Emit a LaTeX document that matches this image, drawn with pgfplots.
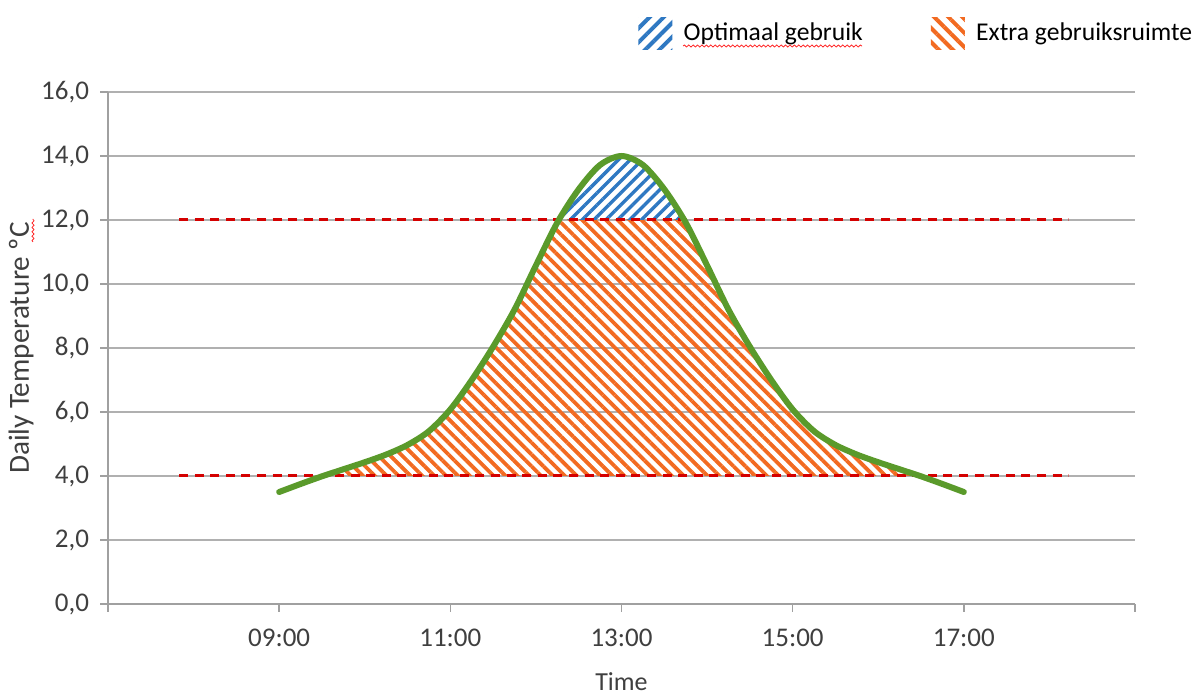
\documentclass[border=0pt]{standalone}
\usepackage{pgfplots}
\pgfplotsset{compat=1.18}
\usepackage{pgfplotstable}
\usetikzlibrary{patterns.meta, decorations.pathmorphing}
\usepackage{fontspec}
\setmainfont{Carlito}
\definecolor{gridgray}{HTML}{B0B0B0}
\definecolor{axisgray}{HTML}{A0A0A0}
\definecolor{hatchorange}{HTML}{F26A21}
\definecolor{hatchblue}{HTML}{2E78C2}
\definecolor{curvegreen}{HTML}{5A9A2B}
\definecolor{dashred}{HTML}{D40000}
\definecolor{textgray}{HTML}{3F3F3F}

\pgfplotstableread{
x y
9.00 3.50
9.25 3.75
9.50 3.99
9.75 4.21
10.00 4.43
10.25 4.67
10.50 4.97
10.75 5.40
11.00 6.08
11.25 7.00
11.50 8.04
11.75 9.20
12.00 10.58
12.25 11.92
12.50 12.96
12.75 13.72
13.00 14.00
13.25 13.72
13.50 12.96
13.75 11.92
14.00 10.58
14.25 9.20
14.50 8.04
14.75 7.00
15.00 6.08
15.25 5.40
15.50 4.97
15.75 4.67
16.00 4.43
16.25 4.21
16.50 3.99
16.75 3.75
17.00 3.50
}\curvedata

\begin{document}
\begin{tikzpicture}[font=\fontsize{13.5}{16}\selectfont]
\begin{axis}[
  at={(0pt,0pt)}, anchor=south west,
  scale only axis, width=513.5pt, height=256pt,
  xmin=7, xmax=19, ymin=0, ymax=16,
  axis lines*=left,
  axis line style={axisgray, line width=0.7pt},
  xtick={7,9,...,19},
  xticklabels={,09:00,11:00,13:00,15:00,17:00,},
  ytick={0,2,...,16},
  tick align=outside, major tick length=4pt,
  tick style={axisgray, line width=0.7pt},
  ymajorgrids, grid style={gridgray, line width=0.7pt},
  yticklabel style={/pgf/number format/fixed, /pgf/number format/fixed zerofill,
    /pgf/number format/precision=1, /pgf/number format/use comma,
    /pgf/number format/assume math mode=true, text=textgray, xshift=-2pt},
  xticklabel style={text=textgray, yshift=-5pt},
  xlabel=Time, ylabel={Daily Temperature ºC},
  xlabel style={at={(axis description cs:0.5,-0.152)}, anchor=center, text=textgray,
    font=\fontsize{13}{15}\selectfont},
  ylabel style={at={(axis description cs:-0.0845,0.5)}, anchor=center, text=textgray,
    font=\fontsize{14.6}{17}\selectfont},
  legend columns=2,
  legend style={at={(rel axis cs:0.516,1.115)}, anchor=west, draw=none, fill=none,
    inner sep=0pt, text=black, font=\fontsize{12.8}{15}\selectfont,
    /tikz/every even column/.append style={column sep=32pt}},
  legend cell align=left,
]
\begin{scope}
\clip (axis cs:7,4) rectangle (axis cs:19,12);
\addplot[pattern={Lines[angle=-45,distance=4.2pt,line width=1.9pt]}, pattern color=hatchorange, draw=none, smooth, forget plot]
  table {\curvedata} \closedcycle;
\end{scope}
\begin{scope}
\clip (axis cs:7,12) rectangle (axis cs:19,16);
\addplot[pattern={Lines[angle=45,distance=4.2pt,line width=1.7pt]}, pattern color=hatchblue, draw=none, smooth, forget plot]
  table {\curvedata} \closedcycle;
\end{scope}

\addplot[dashred, line width=1.5pt, dash pattern=on 4.5pt off 3.3pt, forget plot] coordinates {(7.83,4) (18.22,4)};
\addplot[dashred, line width=1.5pt, dash pattern=on 4.5pt off 3.3pt, forget plot] coordinates {(7.83,12) (18.22,12)};

\addplot[curvegreen, line width=3pt, smooth, line cap=round, forget plot] table {\curvedata};

\addlegendimage{legend image code/.code={\path[draw=none, pattern={Lines[angle=45,distance=5pt,line width=2pt]}, pattern color=hatchblue] (0pt,-8pt) rectangle (17pt,8pt); \path (20.5pt,0pt);}}
\addlegendentry{Optimaal gebruik}
\addlegendimage{legend image code/.code={\path[draw=none, pattern={Lines[angle=-45,distance=5pt,line width=2pt]}, pattern color=hatchorange] (0pt,-8pt) rectangle (17pt,8pt); \path (20.5pt,0pt);}}
\addlegendentry{Extra gebruiksruimte}
\end{axis}
\draw[red!85, line width=0.4pt, decorate, decoration={snake, amplitude=0.5pt, segment length=2.2pt}] (287.5pt,279pt) -- (377pt,279pt);
\draw[red!85, line width=0.4pt, decorate, decoration={snake, amplitude=0.5pt, segment length=2.2pt}] (-37.5pt,181pt) -- (-37.5pt,192.5pt);
\pgfresetboundingbox
\path[use as bounding box] (-54pt,-45.5pt) rectangle (545.5pt,302pt);
\end{tikzpicture}
\end{document}
